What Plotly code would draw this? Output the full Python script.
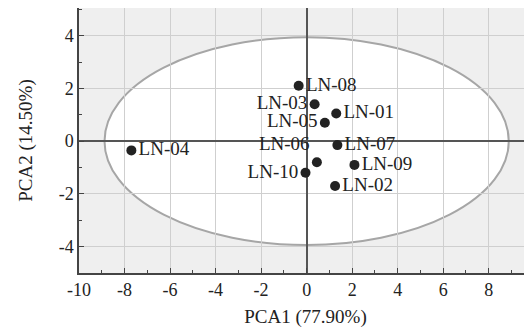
import plotly.graph_objects as go

# ---- data ----
samples = ["LN-01", "LN-02", "LN-03", "LN-04", "LN-05",
           "LN-06", "LN-07", "LN-08", "LN-09", "LN-10"]
pca1 = [1.30, 1.25, 0.35, -7.70, 0.80, 0.45, 1.35, -0.35, 2.10, -0.05]
pca2 = [1.05, -1.70, 1.40, -0.35, 0.70, -0.80, -0.15, 2.10, -0.90, -1.20]
label_side = ["middle right", "middle right", "middle left", "middle right", "middle left",
              "top left", "middle right", "middle right", "middle right", "middle left"]

# confidence ellipse (centre and semi-axes, data units)
ellipse_center = (0.0, 0.0)
ellipse_semi = (8.88, 3.94)

x_title = "PCA1 (77.90%)"
y_title = "PCA2 (14.50%)"
x_ticks = [-10, -8, -6, -4, -2, 0, 2, 4, 6, 8]
x_tick_labels = ["-10", "-8", "-6", "-4", "-2", "0", "2", "4", "6", "8"]
y_ticks = [-4, -2, 0, 2, 4]
y_tick_labels = ["-4", "-2", "0", "2", "4"]

FONT = "Liberation Serif, Times New Roman, serif"
DARK = "#222222"

fig = go.Figure()
fig.add_trace(go.Scatter(
    x=pca1, y=pca2, mode="markers+text", text=samples,
    textposition=label_side,
    marker=dict(size=10, color=DARK),
    textfont=dict(family=FONT, size=19, color=DARK),
    cliponaxis=False, showlegend=False, hoverinfo="text",
))

cx, cy = ellipse_center
a, b = ellipse_semi
fig.add_shape(type="circle", xref="x", yref="y",
              x0=cx - a, x1=cx + a, y0=cy - b, y1=cy + b,
              fillcolor="white", line=dict(color="#a6a6a6", width=2),
              layer="below")

axis_common = dict(
    automargin=False,
    showgrid=True, gridcolor="#cfcfcf", gridwidth=1,
    zeroline=True, zerolinecolor="#555555", zerolinewidth=1.5,
    showline=True, linecolor="#444444", linewidth=1.5,
    ticks="inside", ticklen=5, tickcolor="#444444", tickwidth=1,
    tickfont=dict(family=FONT, size=18, color=DARK),
    minor=dict(ticks="inside", ticklen=3, dtick=1, tickcolor="#444444", showgrid=False),
)

fig.update_xaxes(range=[-10, 9.9], tickvals=x_ticks, ticktext=x_tick_labels,
                 title=dict(text=x_title, font=dict(family=FONT, size=19, color=DARK), standoff=10),
                 **axis_common)
fig.update_yaxes(range=[-5, 5.05], tickvals=y_ticks, ticktext=y_tick_labels,
                 title=dict(text=y_title, font=dict(family=FONT, size=19, color=DARK), standoff=21),
                 **axis_common)

# page body adds an 8px offset; figure sized to fit the window without scrolling
fig.update_layout(
    width=524, height=321,
    margin=dict(l=71, r=0, t=0, b=56),
    paper_bgcolor="white", plot_bgcolor="#efefef",
    font=dict(family=FONT, color=DARK),
)

fig.write_html("out.html")
